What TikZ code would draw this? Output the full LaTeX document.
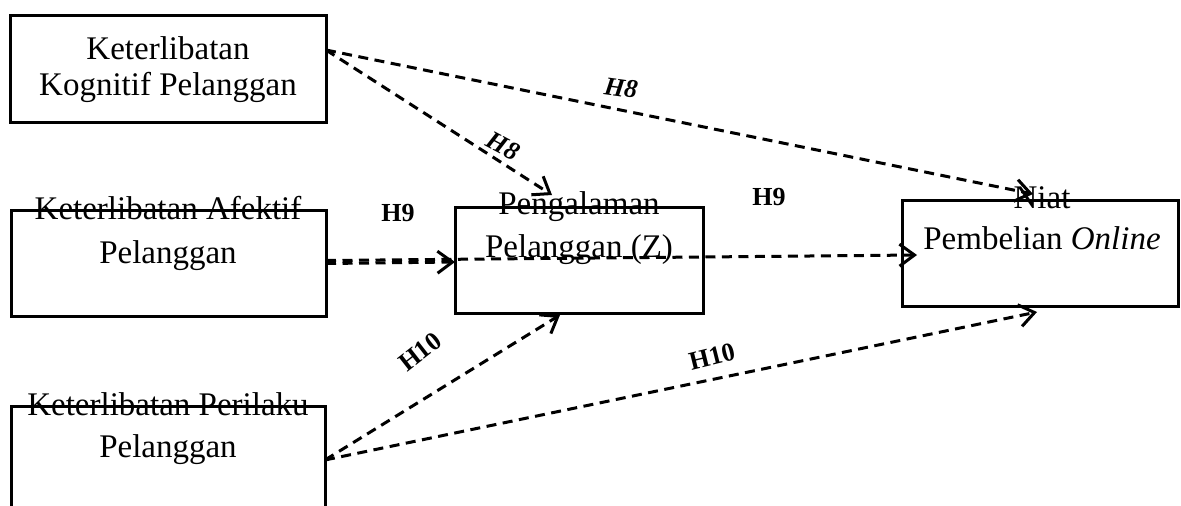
\documentclass[tikz,border=0pt]{standalone}
\usepackage{fontspec}
\setmainfont{Liberation Serif}
\usetikzlibrary{arrows.meta}
\begin{document}
\begin{tikzpicture}[x=1pt,y=-1pt,
  box/.style={draw,line width=3pt,minimum width=#1,inner sep=0pt},
  txt/.style={font=\fontsize{33}{38}\selectfont,inner sep=0pt,anchor=base},
  lab/.style={font=\fontsize{26}{30}\selectfont\bfseries,inner sep=0pt},
  labi/.style={font=\fontsize{26}{30}\selectfont\bfseries\itshape,inner sep=0pt},
  conn/.style={line width=3pt,dash pattern=on 10pt off 6.5pt,-{Straight Barb[length=15pt,width=22pt]}}]
\clip (0,0) rectangle (1181,506);
\fill[white] (0,0) rectangle (1181,506);
% boxes
\node[box=316pt,minimum height=107pt] (k) at (168,68.5) {};
\node[box=315pt,minimum height=106pt] (a) at (168.5,263) {};
\node[box=314pt,minimum height=120pt] (p) at (168,466) {};
\node[box=248pt,minimum height=106pt] (z) at (579,260) {};
\node[box=276pt,minimum height=106pt] (y) at (1040,253) {};
% texts
\node[txt] (k1) at (168,59) {Keterlibatan};
\node[txt] (k2) at (168,95) {Kognitif Pelanggan};
\node[txt] (a1) at (168,219) {Keterlibatan Afektif};
\node[txt] (a2) at (168,263) {Pelanggan};
\node[txt] (p1) at (168,415) {Keterlibatan Perilaku};
\node[txt] (p2) at (168,457) {Pelanggan};
\node[txt] (z1) at (579,214) {Pengalaman};
\node[txt] (z2) at (579,257) {Pelanggan (Z)};
\node[txt] (y1) at (1042,208) {Niat};
\node[txt] (y2) at (1042,249) {Pembelian \textit{Online}};
% connector end points
\coordinate (ks) at (326,50);
\coordinate (as1) at (326,263.5);
\coordinate (as2) at (326,260.5);
\coordinate (ps) at (325,460);
\coordinate (zt) at (552,195);
\coordinate (zl) at (455,262);
\coordinate (zb) at (560,315);
\coordinate (yt) at (1033,194);
\coordinate (yl) at (917,255);
\coordinate (yb) at (1037,312);
% connectors
\draw[conn] (ks) -- (zt);
\draw[conn] (ks) -- (yt);
\draw[conn] (as1) -- (zl);
\draw[conn] (as2) -- (yl);
\draw[conn] (ps) -- (zb);
\draw[conn] (ps) -- (yb);
% labels
\node[labi,rotate=-8] (h8a) at (621,88) {H8};
\node[labi,rotate=-28] (h8b) at (503,146) {H8};
\node[lab] (h9a) at (398,213) {H9};
\node[lab] (h9b) at (769,197) {H9};
\node[lab,rotate=38] (h10a) at (420,352) {H10};
\node[lab,rotate=14] (h10b) at (712,357) {H10};
\end{tikzpicture}
\end{document}
